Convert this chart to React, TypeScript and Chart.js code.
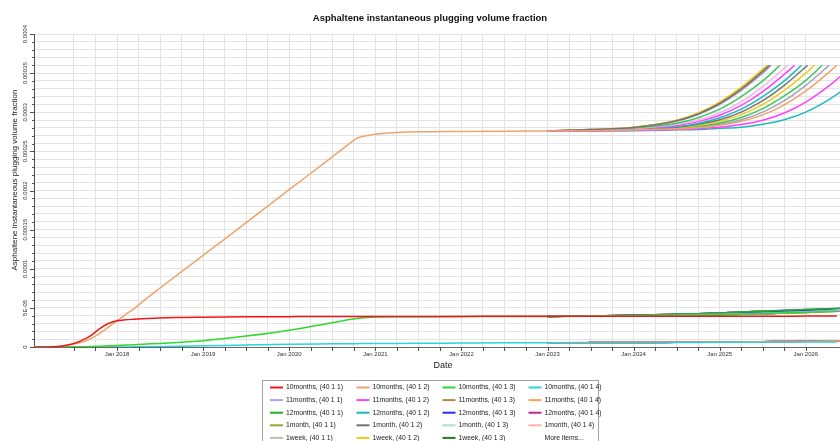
import React, { useEffect, useRef } from "react";
import { Chart, registerables } from "chart.js";
Chart.register(...registerables);

// values are stored in units of 1e-4 (volume fraction)
const UNIT = 1e-4;

const chartTitle = "Asphaltene instantaneous plugging volume fraction";
const yAxisTitle = "Asphaltene instantaneous plugging volume fraction";
const xAxisTitle = "Date";

const caseNames = [
  "10months", "11months", "12months", "1month", "1week", "2months", "2weeks",
  "3months", "3weeks", "4months", "5months", "6months", "7months", "8months", "9months",
];
const wellLabels = ["(40 1 1)", "(40 1 2)", "(40 1 3)", "(40 1 4)"];

const seriesColors = [
  "#f01818", "#eda46c", "#2ed82e", "#2ad4dc", "#a0a8ff", "#ff40ff", "#b08a48", "#ffa050",
  "#22b022", "#1cb8c0", "#2828ff", "#c8209c", "#a0a030", "#747474", "#a4e4bc", "#ffb4a8",
  "#c4bcac", "#f0c818", "#1e7e1e", "#e06060", "#6070e0", "#3cc85c", "#c08040", "#5090e0",
  "#e04848", "#a8a0bc", "#40b090", "#d0a020", "#5050a0", "#f4b4f0", "#80a830", "#f08040",
];

// x axis in decimal years
const X_MIN = 2017.036;
const X_MAX = 2026.397;
const xTickYears = [2018, 2019, 2020, 2021, 2022, 2023, 2024, 2025, 2026];
const xTickLabels = ["Jan 2018", "Jan 2019", "Jan 2020", "Jan 2021", "Jan 2022", "Jan 2023", "Jan 2024", "Jan 2025", "Jan 2026"];

const yTickValues = [0, 0.5, 1, 1.5, 2, 2.5, 3, 3.5, 4];
const yTickLabels = ["0", "5E-05", "0.0001", "0.00015", "0.0002", "0.00025", "0.0003", "0.00035", "0.0004"];

// shared history (all cases identical until 2023; drawn by the first case, the others start at its last point)
const historyDates = [
  2017.036, 2017.25, 2017.4, 2017.5, 2017.61, 2017.7, 2017.8, 2017.9, 2018.0, 2018.1, 2018.2,
  2018.35, 2018.5, 2018.75, 2019.0, 2019.5, 2020.0, 2020.5, 2020.7, 2020.79, 2020.85, 2020.9,
  2021.0, 2021.25, 2021.5, 2022.0, 2022.5, 2023.0,
];
const pos1History = [
  0, 0.003, 0.02, 0.045, 0.095, 0.15, 0.235, 0.3, 0.335, 0.348, 0.355,
  0.365, 0.372, 0.377, 0.38, 0.385, 0.388, 0.39, 0.39, 0.39, 0.39, 0.39,
  0.39, 0.39, 0.391, 0.391, 0.392, 0.392,
];
const pos2History = [
  0, 0.003, 0.02, 0.04, 0.068, 0.11, 0.175, 0.255, 0.336, 0.415, 0.49,
  0.628, 0.754, 0.963, 1.17, 1.59, 2.01, 2.43, 2.6, 2.67, 2.69, 2.7,
  2.72, 2.74, 2.75, 2.755, 2.758, 2.76,
];
const pos3History = [
  0, 0, 0.001, 0.002, 0.004, 0.006, 0.01, 0.015, 0.02, 0.025, 0.03,
  0.038, 0.046, 0.062, 0.08, 0.14, 0.215, 0.31, 0.35, 0.365, 0.373, 0.378,
  0.383, 0.386, 0.387, 0.389, 0.39, 0.391,
];
const pos4History = [
  0, 0, 0, 0, 0, 0, 0, 0, 0, 0.001, 0.002,
  0.004, 0.006, 0.01, 0.015, 0.025, 0.035, 0.04, 0.042, 0.043, 0.044, 0.044,
  0.045, 0.046, 0.047, 0.05, 0.053, 0.055,
];

// prediction part, after 2023
const tailDates = [2023.5, 2024.0, 2024.5, 2024.75, 2025.0, 2025.25, 2025.5, 2025.75, 2026.0, 2026.25, 2026.5, 2026.75];

const pos2Tails = [
  [2.763, 2.773, 2.788, 2.803, 2.832, 2.884, 2.966, 3.094, 3.272, 3.494],
  [2.76, 2.769, 2.779, 2.79, 2.807, 2.842, 2.898, 2.99, 3.13, 3.32, 3.552],
  [2.76, 2.765, 2.775, 2.78, 2.794, 2.809, 2.847, 2.905, 3.002, 3.148, 3.344, 3.58],
  [2.778, 2.805, 2.891, 2.978, 3.112, 3.296, 3.523],
  [2.779, 2.807, 2.898, 2.99, 3.13, 3.32, 3.552],
  [2.776, 2.798, 2.858, 2.93, 3.04, 3.2, 3.4],
  [2.778, 2.804, 2.886, 2.97, 3.1, 3.28, 3.5],
  [2.774, 2.793, 2.844, 2.9, 2.994, 3.136, 3.328, 3.562],
  [2.779, 2.806, 2.896, 2.986, 3.124, 3.312, 3.542],
  [2.773, 2.788, 2.83, 2.88, 2.962, 3.088, 3.264, 3.485],
  [2.771, 2.783, 2.818, 2.858, 2.93, 3.04, 3.2, 3.4],
  [2.77, 2.78, 2.809, 2.847, 2.905, 3.002, 3.148, 3.344, 3.58],
  [2.768, 2.778, 2.804, 2.833, 2.886, 2.97, 3.1, 3.28, 3.5],
  [2.766, 2.776, 2.799, 2.82, 2.862, 2.934, 3.046, 3.208, 3.408],
  [2.765, 2.775, 2.794, 2.809, 2.847, 2.905, 3.002, 3.148, 3.344, 3.58],
];
const endDates = [
  2026.36, 2026.55, 2026.77, 2025.58, 2025.55, 2025.7, 2025.6, 2025.79,
  2025.56, 2025.87, 2025.95, 2026.02, 2026.1, 2026.19, 2026.27,
];
const pos2EndValues = [3.6, 3.6, 3.6, 3.6, 3.6, 3.6, 3.6, 3.6, 3.6, 3.6, 3.6, 3.6, 3.6, 3.6, 3.6];

const pos1TailFlat = [0.392, 0.392, 0.393, 0.393, 0.393, 0.394, 0.394, 0.394, 0.395, 0.395, 0.395, 0.396];
const pos1TailHigh = [0.396, 0.405, 0.418, 0.426, 0.436, 0.446, 0.456, 0.467, 0.478, 0.489, 0.499, 0.51];
const pos1TailLow = [0.394, 0.399, 0.406, 0.411, 0.417, 0.424, 0.432, 0.441, 0.451, 0.461, 0.472, 0.483];
const pos3TailHigh = [0.395, 0.403, 0.415, 0.422, 0.431, 0.441, 0.451, 0.462, 0.473, 0.484, 0.495, 0.505];
const pos3TailLow = [0.393, 0.397, 0.403, 0.407, 0.412, 0.418, 0.425, 0.433, 0.442, 0.452, 0.462, 0.472];
const pos4TailLow = [0.056, 0.057, 0.058, 0.059, 0.06, 0.061, 0.062, 0.063, 0.064, 0.065, 0.066, 0.067];
const pos4TailHigh = [0.056, 0.058, 0.06, 0.062, 0.064, 0.066, 0.068, 0.07, 0.072, 0.074, 0.076, 0.078];

const pos1Shapes = ["flat", "low", "high", "high", "low", "high", "low", "high", "low", "high", "low", "high", "low", "high", "low"];
const pos3Shapes = ["low", "low", "high", "low", "high", "low", "high", "low", "high", "low", "high", "low", "high", "low", "high"];
const pos4Shapes = ["low", "high", "high", "high", "high", "high", "high", "high", "high", "high", "high", "high", "high", "high", "high"];

const pos1EndValues = [0.395, 0.474, 0.511, 0.459, 0.434, 0.465, 0.435, 0.469, 0.434, 0.472, 0.449, 0.479, 0.455, 0.486, 0.462];
const pos3EndValues = [0.456, 0.464, 0.506, 0.428, 0.453, 0.431, 0.455, 0.434, 0.453, 0.438, 0.471, 0.442, 0.477, 0.45, 0.485];
const pos4EndValues = [0.065, 0.076, 0.078, 0.069, 0.068, 0.069, 0.068, 0.07, 0.068, 0.071, 0.072, 0.072, 0.073, 0.073, 0.074];

const legendCount = 19;
const moreItemsText = "More items...";

function pick(shape: string, flat: number[] | null, low: number[], high: number[]) {
  if (shape === "flat" && flat) return flat;
  return shape === "high" ? high : low;
}

function buildDatasets() {
  const ds: any[] = [];
  caseNames.forEach((name, k) => {
    const n = pos2Tails[k].length;
    const tails = [
      pick(pos1Shapes[k], pos1TailFlat, pos1TailLow, pos1TailHigh),
      pos2Tails[k],
      pick(pos3Shapes[k], null, pos3TailLow, pos3TailHigh),
      pick(pos4Shapes[k], null, pos4TailLow, pos4TailHigh),
    ];
    const histories = [pos1History, pos2History, pos3History, pos4History];
    const ends = [pos1EndValues[k], pos2EndValues[k], pos3EndValues[k], pos4EndValues[k]];
    wellLabels.forEach((well, p) => {
      const idx = k * 4 + p;
      const pts: { x: number; y: number }[] = [];
      // the identical history is drawn once (by the first case); others join at its last point
      const startAt = k === 0 ? 0 : historyDates.length - 1;
      for (let i = startAt; i < historyDates.length; i++) pts.push({ x: historyDates[i], y: histories[p][i] * UNIT });
      for (let i = 0; i < n; i++) pts.push({ x: tailDates[i], y: tails[p][i] * UNIT });
      pts.push({ x: endDates[k], y: ends[p] * UNIT });
      ds.push({
        label: `${name}, ${well}`,
        data: pts,
        borderColor: seriesColors[idx % seriesColors.length],
        backgroundColor: seriesColors[idx % seriesColors.length],
        borderWidth: 1.5,
        pointRadius: 0,
        fill: false,
        cubicInterpolationMode: "monotone",
      });
    });
  });
  return ds;
}

const FONT = '"Liberation Sans", Arial, sans-serif';

const decorPlugin = {
  id: "decor",
  afterDraw(chart: any) {
    const ctx = chart.ctx as CanvasRenderingContext2D;
    const xs = chart.scales.x;
    const ys = chart.scales.y;
    const area = chart.chartArea;
    ctx.save();

    // y tick marks
    ctx.strokeStyle = "#505050";
    ctx.lineWidth = 1;
    ys.ticks.forEach((t: any) => {
      const py = Math.round(ys.getPixelForValue(t.value)) + 0.5;
      ctx.beginPath();
      ctx.moveTo(area.left - 2, py);
      ctx.lineTo(area.left, py);
      ctx.stroke();
    });
    yTickValues.forEach((v) => {
      const py = Math.round(ys.getPixelForValue(v * UNIT)) + 0.5;
      ctx.beginPath();
      ctx.moveTo(area.left - 4, py);
      ctx.lineTo(area.left, py);
      ctx.stroke();
    });
    // x tick marks
    xs.ticks.forEach((t: any) => {
      if (t.value <= X_MIN || t.value >= X_MAX) return;
      const px = Math.round(xs.getPixelForValue(t.value)) + 0.5;
      ctx.beginPath();
      ctx.moveTo(px, area.bottom);
      ctx.lineTo(px, area.bottom + 4);
      ctx.stroke();
    });

    // tick labels
    ctx.fillStyle = "#333333";
    ctx.font = `6px ${FONT}`;
    ctx.textAlign = "center";
    ctx.textBaseline = "middle";
    xTickYears.forEach((yr, i) => {
      const px = xs.getPixelForValue(yr);
      ctx.fillText(xTickLabels[i], px, area.bottom + 7.5);
    });
    yTickValues.forEach((v, i) => {
      const py = ys.getPixelForValue(v * UNIT);
      ctx.save();
      ctx.translate(25, py);
      ctx.rotate(-Math.PI / 2);
      ctx.fillText(yTickLabels[i], 0, 0);
      ctx.restore();
    });

    // axis titles
    ctx.fillStyle = "#222222";
    ctx.font = `9px ${FONT}`;
    ctx.fillText(xAxisTitle, 443, 366);
    ctx.save();
    ctx.translate(14.5, 180);
    ctx.rotate(-Math.PI / 2);
    ctx.font = `8px ${FONT}`;
    ctx.fillText(yAxisTitle, 0, 0);
    ctx.restore();

    // chart title
    ctx.fillStyle = "#111111";
    ctx.font = `bold 9.5px ${FONT}`;
    ctx.fillText(chartTitle, 430, 18);

    // legend box
    ctx.fillStyle = "#ffffff";
    ctx.fillRect(262, 380, 336, 70);
    ctx.strokeStyle = "#a0a0a0";
    ctx.strokeRect(262.5, 380.5, 336, 70);
    const colX = [270, 356.5, 442.5, 528.5];
    const ds = chart.data.datasets;
    ctx.font = `6.8px ${FONT}`;
    ctx.textAlign = "left";
    for (let i = 0; i <= legendCount; i++) {
      const r = Math.floor(i / 4);
      const c = i % 4;
      const y = 387.5 + r * 12.6;
      const x = colX[c];
      ctx.fillStyle = "#222222";
      if (i === legendCount) {
        ctx.fillText(moreItemsText, x + 16, y);
        break;
      }
      ctx.strokeStyle = ds[i].borderColor;
      ctx.lineWidth = 2;
      ctx.beginPath();
      ctx.moveTo(x, y);
      ctx.lineTo(x + 13, y);
      ctx.stroke();
      ctx.fillText(ds[i].label, x + 16, y);
    }
    ctx.restore();
  },
};

export default function App() {
  const ref = useRef<HTMLCanvasElement>(null);
  useEffect(() => {
    document.body.style.margin = "0";
    const canvas = ref.current!;
    const chart = new Chart(canvas, {
      type: "line",
      data: { datasets: buildDatasets() },
      options: {
        animation: false,
        responsive: false,
        devicePixelRatio: 1,
        parsing: false as any,
        normalized: true,
        layout: { padding: { top: 34, left: 0, right: 0, bottom: 0 } },
        plugins: {
          legend: { display: false },
          title: { display: false },
          tooltip: { enabled: false },
        },
        scales: {
          x: {
            type: "linear",
            min: X_MIN,
            max: X_MAX,
            ticks: { display: false, stepSize: 0.25 },
            grid: { color: "#e3e3e3", drawTicks: false, lineWidth: 1 },
            border: { display: true, color: "#6a6a6a", width: 1 },
            afterFit: (s: any) => {
              s.height = 94;
            },
          },
          y: {
            type: "linear",
            min: 0,
            max: 4 * UNIT,
            ticks: { display: false, stepSize: 0.1 * UNIT },
            grid: { color: "#e3e3e3", drawTicks: false, lineWidth: 1 },
            border: { display: true, color: "#505050", width: 1 },
            afterFit: (s: any) => {
              s.width = 34;
            },
          },
        },
      } as any,
      plugins: [decorPlugin],
    });
    return () => chart.destroy();
  }, []);
  return (
    <div style={{ width: 840, height: 441, background: "#ffffff" }}>
      <canvas ref={ref} width={840} height={441} style={{ display: "block", width: 840, height: 441 }} />
    </div>
  );
}
